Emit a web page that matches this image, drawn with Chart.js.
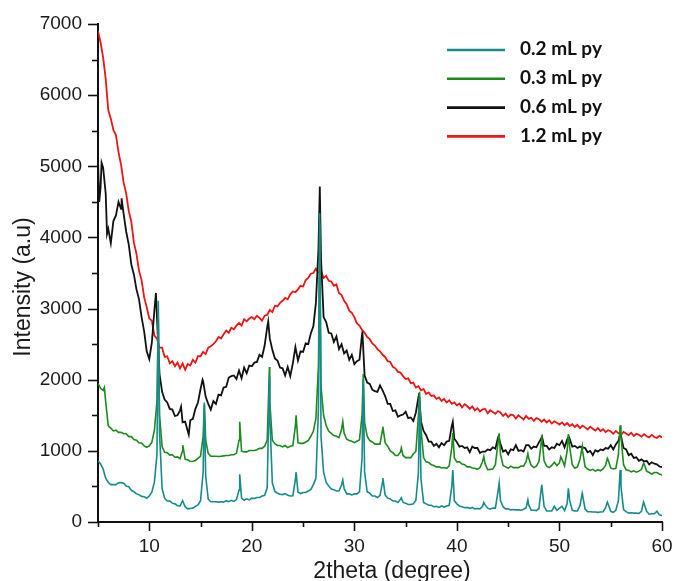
<!DOCTYPE html>
<html>
<head>
<meta charset="utf-8">
<script src="https://cdn.jsdelivr.net/npm/chart.js@4.4.0/dist/chart.umd.min.js"></script>
<style>
  html, body { margin: 0; padding: 0; background: #ffffff; }
  canvas { display: block; }
</style>
</head>
<body>
<canvas id="xrd" width="675" height="581"></canvas>
<script>
// XRD scans: counts recorded every 0.25 degree 2theta from 5 to 60
const scanStart = 5;
const scanStep = 0.25;

// 0.2 mL py
const py02Scan = [
  860, 815, 745, 615, 555, 525, 525, 525, 550, 555, 545, 505, 495, 445, 425, 395, 385, 360, 355, 335,      // 5
  365, 420, 560, 950, 1250, 470, 335, 295, 295, 265, 255, 230, 225, 300, 215, 185, 190, 195, 220, 240,     // 10
  300, 700, 650, 320, 285, 285, 285, 280, 285, 280, 300, 285, 305, 290, 315, 450, 335, 305, 325, 310,      // 15
  335, 330, 345, 345, 365, 375, 480, 1500, 550, 430, 405, 390, 385, 400, 375, 365, 370, 600, 420, 400,     // 20
  415, 415, 435, 455, 525, 615, 1600, 1200, 700, 555, 505, 465, 455, 435, 435, 520, 470, 395, 395, 380,    // 25
  395, 395, 425, 900, 700, 425, 405, 365, 365, 345, 375, 560, 380, 335, 325, 295, 295, 275, 320, 275,      // 30
  265, 245, 245, 255, 305, 700, 600, 275, 255, 235, 235, 215, 220, 205, 225, 210, 225, 235, 500, 300,      // 35
  255, 225, 215, 200, 205, 190, 205, 185, 190, 185, 220, 240, 195, 180, 195, 195, 420, 300, 215, 185,      // 40
  185, 170, 175, 170, 170, 165, 180, 200, 240, 165, 165, 160, 190, 500, 220, 155, 155, 155, 220, 165,      // 45
  195, 220, 160, 260, 300, 165, 155, 155, 230, 380, 180, 145, 145, 140, 140, 135, 140, 145, 200, 250,      // 50
  150, 135, 165, 300, 500, 175, 145, 125, 130, 125, 125, 120, 150, 260, 150, 110, 115, 115, 150, 100,      // 55
  90
];
const py02Peaks = [
  [10.88, 3110], [15.37, 1680], [18.82, 670], [21.72, 2050], [24.32, 700], [26.62, 4340],
  [28.87, 590], [30.87, 2000], [32.78, 617], [34.58, 340], [36.35, 1750], [39.6, 730],
  [42.62, 275], [44.12, 550], [46.92, 309], [48.27, 525], [50.87, 474], [52.22, 403],
  [54.67, 280], [55.92, 731], [58.2, 280]
];

// 0.3 mL py
const py03Scan = [
  1950, 1880, 1850, 1690, 1350, 1320, 1280, 1290, 1260, 1260, 1240, 1240, 1200, 1200, 1160, 1150, 1110, 1110, 1070, 1050,
  1070, 1120, 1290, 1700, 1500, 1060, 980, 975, 940, 945, 910, 915, 890, 1000, 880, 875, 850, 855, 865, 895,
  925, 1200, 1150, 965, 925, 925, 925, 920, 925, 930, 935, 935, 945, 945, 965, 1150, 995, 985, 985, 1005,
  1005, 1005, 1015, 1035, 1035, 1065, 1150, 1700, 1150, 1100, 1075, 1075, 1055, 1075, 1045, 1065, 1075, 1350, 1115, 1105,
  1105, 1125, 1145, 1205, 1275, 1455, 2200, 1900, 1500, 1355, 1275, 1245, 1215, 1205, 1185, 1300, 1250, 1165, 1145, 1135,
  1115, 1135, 1155, 1500, 1400, 1205, 1145, 1125, 1095, 1095, 1095, 1300, 1115, 1065, 1000, 975, 935, 935, 985, 935,
  905, 905, 905, 955, 995, 1500, 1300, 905, 845, 835, 805, 795, 775, 775, 760, 765, 755, 790, 1050, 900,
  845, 845, 815, 805, 775, 775, 760, 755, 740, 765, 850, 820, 735, 740, 745, 805, 1100, 950, 795, 775,
  755, 785, 765, 765, 765, 785, 785, 850, 900, 795, 765, 785, 850, 1150, 860, 785, 765, 795, 840, 795,
  830, 880, 790, 1000, 1050, 805, 755, 775, 880, 1000, 780, 745, 725, 740, 715, 735, 720, 745, 800, 870,
  760, 745, 755, 950, 1200, 805, 735, 725, 705, 720, 700, 715, 740, 820, 715, 695, 675, 695, 695, 675,
  660
];
const py03Peaks = [
  [5.62, 1890], [10.88, 2900], [13.27, 1080], [15.37, 1650], [18.82, 1410], [21.72, 2180],
  [24.32, 1500], [26.62, 4200], [28.87, 1410], [30.87, 2080], [32.78, 1340], [34.58, 1040],
  [36.35, 1830], [39.6, 1250], [42.62, 918], [44.12, 1247], [46.92, 960], [48.27, 1223],
  [50.13, 918], [50.87, 1237], [52.22, 1059], [54.67, 895], [55.92, 1360], [58.2, 825]
];

// 0.6 mL py
const py06Scan = [
  5100, 4700, 4980, 4620, 4120, 3920, 4230, 4310, 4500, 4400, 4330, 4080, 3900, 3620, 3480, 3270, 3130, 2880, 2680, 2400,
  2290, 2520, 2980, 2880, 2080, 1830, 1720, 1680, 1590, 1580, 1490, 1500, 1570, 1400, 1410, 1280, 1430, 1450, 1590, 1680,
  1870, 1980, 1760, 1660, 1580, 1700, 1660, 1790, 1780, 1890, 1900, 2030, 2050, 2060, 2010, 2130, 2020, 2170, 2090, 2200,
  2190, 2240, 2250, 2350, 2320, 2480, 2740, 2580, 2420, 2300, 2270, 2170, 2160, 2060, 2180, 2050, 2230, 2460, 2270, 2400,
  2390, 2510, 2500, 2650, 2750, 3080, 3850, 3700, 2880, 2810, 2660, 2650, 2530, 2610, 2430, 2500, 2370, 2410, 2280, 2350,
  2220, 2260, 2280, 2640, 2060, 1960, 1940, 1860, 1840, 1830, 1920, 1850, 1770, 1660, 1660, 1560, 1570, 1480, 1500, 1510,
  1550, 1460, 1470, 1420, 1540, 1760, 1410, 1280, 1220, 1130, 1130, 1070, 1100, 1050, 1110, 1080, 1130, 1140, 1350, 1170,
  1120, 1060, 1070, 1040, 1050, 980, 1060, 1040, 1040, 970, 990, 990, 1020, 1010, 1050, 1030, 1180, 1100, 990, 1010,
  950, 1020, 1010, 1080, 1000, 1010, 990, 1080, 1080, 1030, 1060, 1050, 1120, 1180, 1070, 1070, 1020, 1050, 1040, 1100,
  1080, 1140, 1050, 1160, 1170, 1060, 1070, 1040, 1060, 1050, 1040, 980, 1000, 940, 1010, 990, 1020, 1010, 1040, 1030,
  1080, 1020, 1090, 1140, 1210, 1040, 1020, 940, 960, 900, 910, 860, 880, 850, 860, 810, 840, 820, 810, 780,
  770
];
const py06Peaks = [
  [5.12, 4500], [5.35, 5050], [5.88, 4050], [7.3, 4550], [10.65, 3220], [13.1, 1620],
  [13.85, 1230], [15.2, 2000], [21.6, 2820], [26.63, 4715], [30.78, 2680], [36.3, 1810],
  [39.6, 1410], [44.05, 1200], [48.3, 1200], [50.9, 1200], [55.9, 1225]
];

// 1.2 mL py
const py12Scan = [
  6900, 6740, 6530, 6230, 5790, 5670, 5510, 5440, 5200, 5020, 4770, 4620, 4370, 4220, 3930, 3770, 3530, 3400, 3160, 3020,
  2860, 2830, 2620, 2580, 2450, 2450, 2320, 2330, 2230, 2260, 2190, 2240, 2160, 2230, 2140, 2220, 2200, 2280, 2240, 2330,
  2330, 2390, 2360, 2450, 2470, 2500, 2540, 2600, 2580, 2640, 2690, 2660, 2730, 2710, 2760, 2800, 2760, 2850, 2820, 2860,
  2880, 2850, 2900, 2870, 2830, 2900, 2910, 2980, 2950, 3040, 3030, 3080, 3110, 3150, 3130, 3200, 3240, 3230, 3270, 3320,
  3310, 3400, 3430, 3490, 3500, 3560, 3510, 3530, 3430, 3460, 3390, 3380, 3320, 3340, 3220, 3190, 3110, 3060, 2970, 2940,
  2880, 2790, 2760, 2700, 2660, 2600, 2570, 2510, 2480, 2430, 2400, 2350, 2320, 2260, 2250, 2180, 2160, 2110, 2100, 2050,
  2010, 2020, 1950, 1960, 1890, 1910, 1850, 1870, 1800, 1820, 1770, 1780, 1730, 1750, 1700, 1730, 1680, 1710, 1660, 1680,
  1640, 1665, 1610, 1655, 1630, 1590, 1625, 1570, 1600, 1555, 1585, 1590, 1530, 1570, 1545, 1520, 1560, 1540, 1490, 1525,
  1475, 1510, 1500, 1455, 1500, 1470, 1440, 1490, 1450, 1465, 1420, 1460, 1445, 1410, 1440, 1400, 1430, 1385, 1415, 1395,
  1370, 1400, 1360, 1390, 1350, 1375, 1335, 1365, 1320, 1355, 1330, 1300, 1340, 1310, 1285, 1320, 1280, 1305, 1265, 1290,
  1275, 1240, 1280, 1250, 1225, 1265, 1245, 1220, 1255, 1210, 1240, 1225, 1200, 1235, 1205, 1190, 1225, 1195, 1180, 1210,
  1190
];
const py12Peaks = [];

const seriesLabels = ['0.2 mL py', '0.3 mL py', '0.6 mL py', '1.2 mL py'];
const seriesColors = ['#178a8c', '#1c8a1c', '#111111', '#f01414'];
const seriesWidths = [1.6, 1.6, 1.8, 1.8];
const xLabelTicks = [10, 20, 30, 40, 50, 60];
const yLabelTicks = [0, 1000, 2000, 3000, 4000, 5000, 6000, 7000];

// merge the stepped scan with the separately listed peak maxima
function buildPattern(scan, peaks) {
  const pts = scan.map((y, i) => ({ x: scanStart + i * scanStep, y }));
  peaks.forEach(([x, y]) => pts.push({ x, y }));
  return pts.sort((a, b) => a.x - b.x);
}

const patterns = [
  buildPattern(py02Scan, py02Peaks),
  buildPattern(py03Scan, py03Peaks),
  buildPattern(py06Scan, py06Peaks),
  buildPattern(py12Scan, py12Peaks)
];

const tickFont = { family: '"Liberation Sans", Arial, sans-serif', size: 19 };

// tick marks, axis titles and the legend block
const decorations = {
  id: 'decorations',
  afterDraw(chart) {
    const { ctx, chartArea, scales } = chart;
    const xs = scales.x, ys = scales.y;
    ctx.save();
    ctx.strokeStyle = '#111';
    ctx.lineWidth = 1.6;
    xs.ticks.forEach(t => {
      const px = Math.round(xs.getPixelForValue(t.value)) + 0.5;
      const len = xLabelTicks.includes(t.value) ? 9 : 5;
      ctx.beginPath();
      ctx.moveTo(px, chartArea.bottom);
      ctx.lineTo(px, chartArea.bottom + len);
      ctx.stroke();
    });
    ys.ticks.forEach(t => {
      const py = Math.round(ys.getPixelForValue(t.value)) + 0.5;
      const len = yLabelTicks.includes(t.value) ? 10 : 6;
      ctx.beginPath();
      ctx.moveTo(chartArea.left, py);
      ctx.lineTo(chartArea.left - len, py);
      ctx.stroke();
    });

    // axis titles
    ctx.fillStyle = '#1a1a1a';
    ctx.font = '23px "Liberation Sans", Arial, sans-serif';
    ctx.textAlign = 'center';
    ctx.textBaseline = 'alphabetic';
    ctx.fillText('2theta (degree)', chartArea.left + 294, 578);
    ctx.save();
    ctx.translate(29.5, chartArea.top + 263);
    ctx.rotate(-Math.PI / 2);
    ctx.fillText('Intensity (a.u)', 0, 0);
    ctx.restore();

    // legend
    ctx.font = 'bold 19px Lato, "Open Sans", sans-serif';
    ctx.textAlign = 'left';
    ctx.textBaseline = 'middle';
    chart.data.datasets.forEach((ds, i) => {
      const y = 50 + i * 28.8;
      ctx.strokeStyle = ds.borderColor;
      ctx.lineWidth = 2.6;
      ctx.beginPath();
      ctx.moveTo(447, y);
      ctx.lineTo(505, y);
      ctx.stroke();
      ctx.fillStyle = '#111';
      ctx.fillText(ds.label, 520, y - 1);
    });
    ctx.restore();
  }
};

new Chart(document.getElementById('xrd'), {
  type: 'line',
  data: {
    datasets: patterns.map((data, i) => ({
      label: seriesLabels[i],
      data,
      borderColor: seriesColors[i],
      borderWidth: seriesWidths[i],
      pointRadius: 0,
      tension: 0,
      fill: false
    }))
  },
  options: {
    responsive: false,
    animation: false,
    events: [],
    layout: { padding: { top: 24, right: 13, left: 0, bottom: 0 } },
    plugins: { legend: { display: false }, tooltip: { enabled: false }, title: { display: false } },
    scales: {
      x: {
        type: 'linear',
        min: 5,
        max: 60,
        afterFit(scale) {
          scale.height = 59;
          scale.paddingLeft = 0;
          scale.paddingRight = 0;
        },
        grid: { display: false, drawTicks: false },
        border: { display: true, color: '#111', width: 2 },
        ticks: {
          stepSize: 5,
          autoSkip: false,
          maxRotation: 0,
          padding: 13,
          color: '#1a1a1a',
          font: tickFont,
          callback: v => (xLabelTicks.includes(v) ? String(v) : '')
        }
      },
      y: {
        type: 'linear',
        min: 0,
        max: 7000,
        afterFit(scale) {
          scale.width = 98;
          scale.paddingTop = 0;
          scale.paddingBottom = 0;
        },
        grid: { display: false, drawTicks: false },
        border: { display: true, color: '#111', width: 2 },
        ticks: {
          stepSize: 500,
          autoSkip: false,
          padding: 16,
          color: '#1a1a1a',
          font: tickFont,
          callback: v => (yLabelTicks.includes(v) ? String(v) : '')
        }
      }
    }
  },
  plugins: [decorations]
});
</script>
</body>
</html>
